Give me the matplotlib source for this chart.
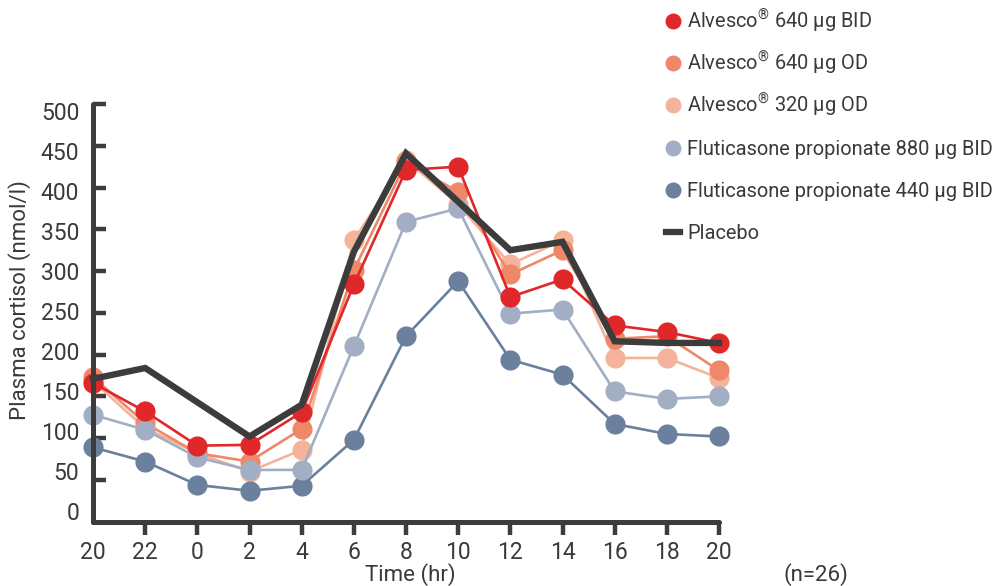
import numpy as np
import matplotlib.pyplot as plt
from matplotlib.lines import Line2D
import matplotlib.transforms as mtransforms

plt.rcParams['font.family'] = ['Roboto', 'DejaVu Sans']
plt.rcParams['mathtext.fontset'] = 'custom'
plt.rcParams['mathtext.rm'] = 'Roboto'

# time labels (24h clock, starting 20:00)
hours = ['20', '22', '0', '2', '4', '6', '8', '10', '12', '14', '16', '18', '20']

alv_640_bid = [166, 132, 91, 92, 131, 284, 421, 425, 269, 290, 235, 227, 214]
alv_640_od = [173, 118, 82, 72, 111, 301, 430, 395, 296, 325, 219, 222, 181]
alv_320_od = [168, 112, 82, 60, 86, 337, 433, 380, 308, 337, 196, 196, 172]
flu_880_bid = [128, 110, 77, 62, 62, 210, 359, 375, 249, 254, 156, 147, 150]
flu_440_bid = [89, 72, 44, 37, 43, 98, 222, 288, 194, 176, 117, 105, 102]

placebo_idx = [0, 1, 3, 4, 5, 6, 8, 9, 10, 11, 12]
placebo = [171, 184, 102, 140, 323, 441, 325, 335, 216, 214, 214]

yticks = np.arange(0, 501, 50)

c_red = '#e0282a'
c_org = '#ee8868'
c_pch = '#f4b39a'
c_lbl = '#a2aec3'
c_dbl = '#6a809d'
c_plc = '#3c3c3c'
txt = '#3a3a3a'

W, H = 994, 586
fig = plt.figure(figsize=(W / 100, H / 100), dpi=100)
ax = fig.add_axes([93 / W, 1 - 521.7 / H, 626 / W, 417.7 / H])

x = np.arange(len(hours))
ms = 14.5
lw = 1.9
# draw order: bottom to top
for ys, c in [(alv_320_od, c_pch), (alv_640_od, c_org), (flu_440_bid, c_dbl),
              (flu_880_bid, c_lbl), (alv_640_bid, c_red)]:
    ax.plot(x, ys, '-o', color=c, lw=lw, ms=ms, mec='none', clip_on=False)
ax.plot(placebo_idx, placebo, '-', color=c_plc, lw=4.6, clip_on=False,
        solid_joinstyle='miter')

ax.set_xlim(0, 12)
ax.set_ylim(0, 500)
ax.set_xticks(x)
ax.set_xticklabels(hours)
ax.set_yticks(yticks)
ax.set_yticklabels([])

for s in ['top', 'right']:
    ax.spines[s].set_visible(False)
for s in ['left', 'bottom']:
    ax.spines[s].set_linewidth(3.6)
    ax.spines[s].set_color(c_plc)
    ax.spines[s].set_capstyle('round')

ax.tick_params(axis='y', direction='in', length=9, width=3.2, color=c_plc)
ax.tick_params(axis='x', direction='out', length=9, width=3.2, color=c_plc,
               labelsize=16.5, labelcolor=txt, pad=5)
ax.xaxis.get_major_ticks()[0].tick1line.set_visible(False)
ax.yaxis.get_major_ticks()[0].tick1line.set_visible(False)

# y labels in the source sit a little off their ticks (0 high, 500 low)
ytr = mtransforms.blended_transform_factory(ax.transAxes, ax.transData)
for v in yticks:
    ax.text(-0.022, 9.8 + 0.958 * v, str(v), transform=ytr, ha='right',
            va='center', fontsize=16.5, color=txt)

fig.text(20 / W, 1 - 300 / H, 'Plasma cortisol (nmol/l)', rotation=90,
         fontsize=16, color=txt, ha='center', va='center')
fig.text(410 / W, 1 - 575 / H, 'Time (hr)', fontsize=16, color=txt,
         ha='center', va='center')
fig.text(816 / W, 1 - 575 / H, '(n=26)', fontsize=16, color=txt,
         ha='center', va='center')

# legend, drawn by hand so rows are evenly spaced
labels = ['Alvesco$^{®}$ 640 µg BID', 'Alvesco$^{®}$ 640 µg OD',
          'Alvesco$^{®}$ 320 µg OD', 'Fluticasone propionate 880 µg BID',
          'Fluticasone propionate 440 µg BID', 'Placebo']
colors = [c_red, c_org, c_pch, c_lbl, c_dbl, c_plc]
for i, (lab, c) in enumerate(zip(labels, colors)):
    yc = 1 - (21 + 42.2 * i) / H
    if i < 5:
        fig.add_artist(Line2D([673 / W], [yc], marker='o', ls='none', color=c,
                              ms=11.5, mec='none', transform=fig.transFigure))
    else:
        fig.add_artist(Line2D([666 / W, 680 / W], [yc, yc], color=c, lw=4.5,
                              transform=fig.transFigure))
    fig.text(687 / W, yc - 7.3 / H, lab, fontsize=14.4, color=txt,
             ha='left', va='baseline')

fig.savefig('out.png', dpi=100)
